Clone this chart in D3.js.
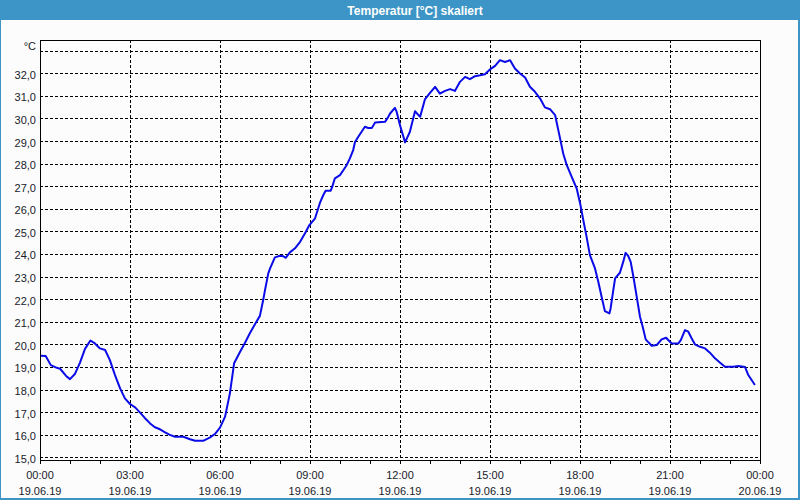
<!DOCTYPE html>
<html><head><meta charset="utf-8">
<script src="https://cdn.jsdelivr.net/npm/d3@7"></script>
<style>
html,body{margin:0;padding:0;background:#fbfcfb;}
svg{display:block;}
</style></head>
<body>
<script>
const titleText = "Temperatur [°C] skaliert";
const unitLabel = "°C";
// hours since 19.06.19 00:00
const hours = [0,0.19,0.36,0.56,0.67,0.87,1.0,1.17,1.33,1.5,1.68,1.83,2.0,2.17,2.33,2.5,2.67,2.83,3.0,3.17,3.33,3.5,3.67,3.83,4.0,4.17,4.33,4.5,4.78,5.0,5.17,5.44,5.67,5.83,6.0,6.17,6.33,6.47,6.67,6.83,7.0,7.17,7.33,7.44,7.5,7.61,7.67,7.83,8.0,8.11,8.19,8.33,8.5,8.67,8.83,8.98,9.17,9.33,9.44,9.52,9.69,9.74,9.83,10.0,10.11,10.22,10.33,10.44,10.5,10.61,10.72,10.83,10.94,11.06,11.17,11.5,11.6,11.67,11.83,11.89,12.0,12.17,12.33,12.5,12.67,12.83,13.0,13.17,13.33,13.5,13.67,13.83,14.0,14.17,14.33,14.5,14.67,14.83,15.0,15.17,15.33,15.5,15.67,15.83,16.0,16.17,16.33,16.5,16.67,16.83,17.0,17.17,17.33,17.44,17.56,17.72,17.89,18.01,18.11,18.22,18.33,18.5,18.61,18.72,18.83,18.98,19.02,19.11,19.17,19.33,19.44,19.52,19.61,19.69,19.78,19.89,20.0,20.09,20.19,20.28,20.39,20.56,20.72,20.87,20.94,21.06,21.28,21.36,21.5,21.61,21.72,21.83,22.0,22.17,22.33,22.5,22.67,22.83,23.11,23.28,23.5,23.61,23.72,23.83];
const temps = [19.50,19.48,19.08,18.96,18.92,18.60,18.46,18.70,19.18,19.80,20.17,20.04,19.82,19.75,19.30,18.64,18.05,17.61,17.36,17.21,16.99,16.73,16.50,16.33,16.24,16.10,15.99,15.91,15.91,15.80,15.73,15.73,15.88,16.03,16.31,16.80,17.83,19.16,19.67,20.06,20.50,20.90,21.26,21.96,22.40,23.14,23.36,23.85,23.92,23.90,23.83,24.07,24.25,24.54,24.91,25.28,25.58,26.26,26.60,26.80,26.80,26.97,27.35,27.49,27.71,27.93,28.23,28.60,28.96,29.19,29.41,29.63,29.58,29.58,29.82,29.85,30.05,30.22,30.47,30.29,29.70,28.94,29.41,30.32,30.07,30.84,31.13,31.40,31.10,31.22,31.30,31.22,31.62,31.84,31.74,31.87,31.91,31.96,32.17,32.33,32.58,32.50,32.58,32.21,31.99,31.81,31.40,31.18,30.88,30.49,30.41,30.15,29.15,28.45,27.93,27.42,26.90,26.20,25.50,24.76,23.95,23.36,22.77,22.11,21.47,21.37,21.59,22.40,22.92,23.17,23.65,24.05,23.91,23.65,22.99,22.11,21.22,20.78,20.22,20.09,19.94,19.97,20.22,20.29,20.19,20.04,20.04,20.19,20.63,20.56,20.27,20.00,19.89,19.82,19.63,19.38,19.19,19.01,19.01,19.04,19.00,18.64,18.42,18.20];
const yTicks = [15,16,17,18,19,20,21,22,23,24,25,26,27,28,29,30,31,32];
const xTickHours = [0,3,6,9,12,15,18,21,24];
const timeLabels = ["00:00","03:00","06:00","09:00","12:00","15:00","18:00","21:00","00:00"];
const dateLabels = ["19.06.19","19.06.19","19.06.19","19.06.19","19.06.19","19.06.19","19.06.19","19.06.19","20.06.19"];
const minorTickHours = d3.range(0,25,1);

const W=800,H=500;
const L=40,R=760,T=40,B=460;
const font="'Liberation Sans', Arial, sans-serif";
const svg=d3.select("body").append("svg").attr("width",W).attr("height",H);

svg.append("rect").attr("x",0).attr("y",0).attr("width",W).attr("height",H).attr("fill","#fbfcfb");
// window border
svg.append("rect").attr("x",0.5).attr("y",0.5).attr("width",W-1.5).attr("height",H-1).attr("fill","none").attr("stroke","#3d94c6").attr("stroke-width",1);
svg.append("rect").attr("x",798).attr("y",0).attr("width",2).attr("height",H).attr("fill","#3d94c6");
svg.append("rect").attr("x",0).attr("y",498).attr("width",W).attr("height",2).attr("fill","#3d94c6");
// title bar
svg.append("rect").attr("x",0).attr("y",0).attr("width",W).attr("height",20).attr("fill","#3d94c6");
svg.append("text").attr("x",415).attr("y",14.5).attr("text-anchor","middle")
  .attr("font-family",font).attr("font-weight","bold").attr("font-size","12px").attr("fill","#ffffff").text(titleText);

const x=d3.scaleLinear().domain([0,24]).range([L,R]);
const y=d3.scaleLinear().domain([14.88,33.473]).range([B,T]);
const px=v=>Math.round(v)+0.5;

const g=svg.append("g");
// horizontal grid
g.selectAll("line.hg").data(yTicks.concat([33])).enter().append("line")
  .attr("x1",L).attr("x2",R).attr("y1",d=>px(y(d))).attr("y2",d=>px(y(d)))
  .attr("stroke","#000").attr("stroke-width",1).attr("stroke-dasharray","3,2").attr("shape-rendering","crispEdges");
// vertical grid
g.selectAll("line.vg").data(xTickHours.slice(1,-1)).enter().append("line")
  .attr("y1",T).attr("y2",B).attr("x1",d=>px(x(d))).attr("x2",d=>px(x(d)))
  .attr("stroke","#000").attr("stroke-width",1).attr("stroke-dasharray","3,2").attr("shape-rendering","crispEdges");

// data line
const pts=hours.map((h,i)=>[h,temps[i]]);
g.append("path").datum(pts)
  .attr("d",d3.line().x(d=>x(d[0])).y(d=>y(d[1])))
  .attr("fill","none").attr("stroke","#0b0be8").attr("stroke-width",2).attr("stroke-linejoin","round");

// frame
g.append("rect").attr("x",L+0.5).attr("y",T+0.5).attr("width",R-L).attr("height",B-T)
  .attr("fill","none").attr("stroke","#000").attr("stroke-width",1).attr("shape-rendering","crispEdges");

// minor ticks at bottom
g.selectAll("line.mt").data(minorTickHours).enter().append("line")
  .attr("x1",d=>px(x(d))).attr("x2",d=>px(x(d))).attr("y1",B).attr("y2",B+4)
  .attr("stroke","#000").attr("stroke-width",1).attr("shape-rendering","crispEdges");

// y labels
g.selectAll("text.yl").data(yTicks).enter().append("text")
  .attr("x",36).attr("y",d=>y(d)+5.5).attr("text-anchor","end")
  .attr("font-family",font).attr("font-size","11px").attr("fill","#1a1a2a")
  .text(d=>d3.format(".1f")(d).replace(".",","));
g.append("text").attr("x",36).attr("y",50).attr("text-anchor","end")
  .attr("font-family",font).attr("font-size","11px").attr("fill","#1a1a2a").text(unitLabel);

// x labels
g.selectAll("text.xt").data(xTickHours).enter().append("text")
  .attr("x",d=>x(d)).attr("y",479).attr("text-anchor","middle")
  .attr("font-family",font).attr("font-size","11px").attr("fill","#1a1a2a")
  .text((d,i)=>timeLabels[i]);
g.selectAll("text.xd").data(xTickHours).enter().append("text")
  .attr("x",d=>x(d)).attr("y",494.5).attr("text-anchor","middle")
  .attr("font-family",font).attr("font-size","11px").attr("fill","#1a1a2a")
  .text((d,i)=>dateLabels[i]);
</script>
</body></html>
